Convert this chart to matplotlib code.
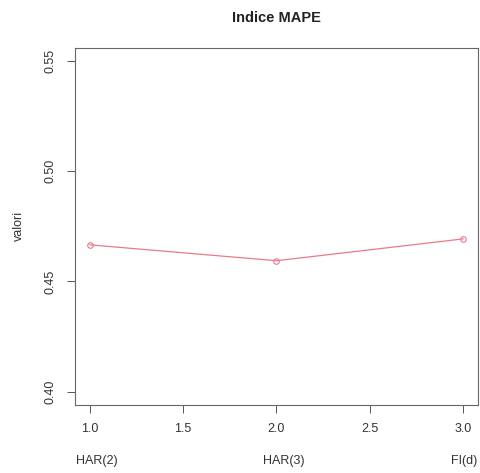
import matplotlib
matplotlib.use("Agg")
import matplotlib.pyplot as plt

plt.rcParams['font.family'] = ['Liberation Sans', 'DejaVu Sans']

# MAPE per modello
modelli = ['HAR(2)', 'HAR(3)', 'FI(d)']
x = [1, 2, 3]
valori = [0.4666, 0.4594, 0.4693]
x_ticks = [1.0, 1.5, 2.0, 2.5, 3.0]
y_ticks = [0.40, 0.45, 0.50, 0.55]

fig = plt.figure(figsize=(4.8, 4.73), dpi=100)
ax = fig.add_axes([0.156, 0.144, 0.84, 0.755])

ax.plot(x, valori, color='#e87a8c', linewidth=0.9, marker='o', markersize=4,
        markerfacecolor='none', markeredgecolor='#e87a8c', markeredgewidth=0.8)

ax.set_xlim(0.92, 3.08)
ax.set_ylim(0.394, 0.556)
ax.set_xticks(x_ticks)
ax.set_xticklabels(['%.1f' % t for t in x_ticks])
ax.set_yticks(y_ticks)
ax.set_yticklabels(['%.2f' % t for t in y_ticks], rotation=90, va='center')
ax.tick_params(axis='both', direction='out', length=6, width=0.7,
               color='#555555', labelsize=9, labelcolor='#333333')
ax.tick_params(axis='x', pad=7)
ax.tick_params(axis='y', pad=7)
for s in ax.spines.values():
    s.set_color('#666666')
    s.set_linewidth(0.8)

ax.set_ylabel('valori', fontsize=9, color='#333333', labelpad=14)
fig.text(0.575, 0.962, 'Indice MAPE', ha='center', va='center',
         fontsize=10.5, fontweight='bold', color='#222222')

# nomi dei modelli sotto l'asse
spost = [0.04, 0.04, 0.005]
for xi, nome, dx in zip(x, modelli, spost):
    ax.text(xi + dx, -0.157, nome, transform=ax.get_xaxis_transform(),
            ha='center', va='center', fontsize=9, color='#333333')

fig.savefig('out.png', dpi=100)
